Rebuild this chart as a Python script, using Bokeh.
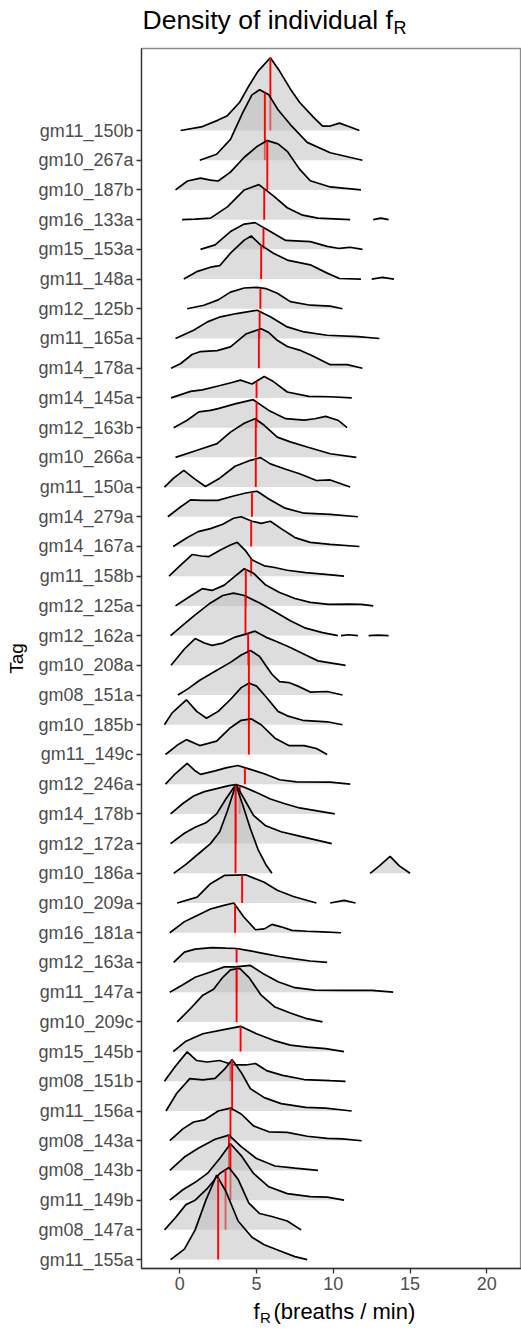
import numpy as np
from bokeh.plotting import figure
from bokeh.layouts import column
from bokeh.models import FixedTicker, Range1d
from bokeh.core.properties import value
from bokeh.embed import file_html
from bokeh.resources import INLINE

# Animals, listed top to bottom as they appear on the y axis
tags = ["gm11_150b", "gm10_267a", "gm10_187b", "gm16_133a", "gm15_153a", "gm11_148a",
        "gm12_125b", "gm11_165a", "gm14_178a", "gm14_145a", "gm12_163b", "gm10_266a",
        "gm11_150a", "gm14_279a", "gm14_167a", "gm11_158b", "gm12_125a", "gm12_162a",
        "gm10_208a", "gm08_151a", "gm10_185b", "gm11_149c", "gm12_246a", "gm14_178b",
        "gm12_172a", "gm10_186a", "gm10_209a", "gm16_181a", "gm12_163a", "gm11_147a",
        "gm10_209c", "gm15_145b", "gm08_151b", "gm11_156a", "gm08_143a", "gm08_143b",
        "gm11_149b", "gm08_147a", "gm11_155a"]

# Median breathing frequency per animal (breaths/min)
medians = [5.9, 5.54, 5.7, 5.5, 5.45, 5.3, 5.25, 5.2, 5.15, 5.0, 5.0, 4.95, 4.95, 4.7,
           4.65, 4.65, 4.3, 4.28, 4.45, 4.5, 4.5, 4.5, 4.24, 3.9, 3.65, 3.63, 4.06, 3.6,
           3.7, 3.7, 3.7, 3.96, 3.3, 3.41, 3.3, 3.2, 3.3, 2.98, 2.5]

# Scaled density curves: frequency values and ridge heights (in row units)
curve_x = [
    [0.05, 1.4, 2.5, 3.1, 3.9, 4.5, 5.1, 5.9, 6.5, 7.2, 7.8, 8.7, 9.3, 9.8, 10.4, 11.1, 11.7],
    [1.3, 2.4, 3.3, 4.1, 4.7, 5.2, 5.8, 6.4, 7.2, 8.3, 9.8, 11.9],
    [-0.28, 0.5, 1.35, 2.0, 2.5, 3.3, 4.2, 5.0, 5.7, 6.4, 7.0, 7.8, 8.5, 9.8, 11.8],
    [0.15, 1.0, 2.0, 3.1, 4.2, 5.15, 6.1, 7.0, 8.0, 9.0, 11.1],
    [1.35, 2.3, 3.3, 4.2, 4.9, 5.9, 6.9, 8.5, 9.6, 10.4, 11.1, 11.9],
    [0.26, 1.1, 2.0, 2.6, 3.3, 4.2, 4.65, 5.26, 6.1, 7.0, 8.5, 9.6, 10.4, 11.8],
    [0.48, 1.57, 2.5, 3.3, 4.2, 5.04, 5.6, 6.35, 7.2, 8.5, 9.8, 10.6],
    [-0.28, 0.9, 1.8, 2.65, 3.7, 5.04, 5.9, 7.0, 8.1, 9.6, 11.6, 13.0],
    [-0.57, 0.04, 0.8, 1.35, 2.43, 3.3, 4.3, 5.3, 5.8, 6.35, 7.0, 7.9, 8.6, 9.8, 10.9, 11.9],
    [-0.57, 0.7, 1.46, 2.5, 3.4, 3.95, 4.7, 5.5, 6.1, 7.0, 8.4, 9.8, 11.2],
    [-0.4, 0.48, 1.24, 2.0, 2.5, 3.6, 4.78, 5.8, 6.9, 8.1, 8.8, 9.5, 10.3, 10.9],
    [-0.28, 1.13, 2.43, 3.3, 4.2, 4.9, 5.5, 6.35, 7.2, 8.3, 9.8, 11.5],
    [-1.0, -0.4, 0.26, 0.9, 1.67, 2.6, 3.6, 4.6, 5.26, 5.9, 6.9, 7.8, 8.9, 9.8, 11.1],
    [-0.78, 0.04, 0.7, 1.46, 2.48, 3.5, 4.3, 5.04, 5.8, 6.8, 8.1, 9.8, 11.6],
    [-0.43, 0.5, 1.2, 2.0, 2.8, 3.5, 4.0, 4.7, 5.3, 5.9, 6.6, 7.5, 8.5, 9.8, 11.7],
    [-0.7, 0.0, 0.8, 1.4, 1.9, 2.7, 3.3, 3.74, 4.3, 4.7, 5.5, 6.1, 7.0, 8.2, 9.5, 10.7],
    [-0.28, 0.6, 1.46, 2.1, 2.9, 3.6, 4.2, 4.8, 5.6, 6.5, 7.5, 8.5, 9.7, 11.0, 11.8, 12.6],
    [-0.6, 0.2, 1.0, 2.0, 2.8, 3.5, 4.2, 5.2, 6.2, 7.2, 8.2, 9.3, 10.3],
    [-0.57, 0.3, 1.0, 1.6, 2.1, 2.8, 3.6, 4.3, 4.9, 5.6, 6.3, 7.2, 8.2, 9.0, 10.8],
    [-0.13, 0.5, 1.3, 2.3, 3.3, 4.0, 4.6, 5.2, 6.0, 6.5, 7.1, 7.7, 8.5, 9.6, 10.6],
    [-1.0, -0.5, 0.43, 1.1, 1.74, 2.5, 3.3, 4.0, 4.5, 5.0, 5.6, 6.4, 7.0, 8.0, 9.6, 10.6],
    [-0.93, -0.2, 0.43, 1.3, 2.4, 3.3, 4.0, 4.65, 5.3, 6.2, 7.1, 8.1, 8.9, 9.6],
    [-0.93, -0.3, 0.48, 1.0, 1.35, 2.3, 3.0, 3.78, 4.6, 5.5, 6.5, 7.6, 9.8, 11.1],
    [-0.6, 0.2, 0.9, 1.6, 2.4, 3.2, 3.65, 4.2, 5.0, 5.9, 6.8, 7.8, 10.1],
    [-0.6, 0.3, 1.0, 1.7, 2.4, 3.0, 3.65, 4.2, 4.8, 5.6, 6.6, 7.8, 9.9],
    [-0.4, 0.4, 1.2, 2.0, 2.6, 3.1, 3.65, 4.1, 4.6, 5.1, 5.6, 6.0],
    [-0.17, 1.13, 2.0, 2.9, 4.28, 5.5, 6.35, 7.4, 8.9],
    [-0.65, 0.26, 1.13, 2.0, 2.87, 3.52, 4.17, 4.93, 5.5, 6.0, 6.6, 7.3, 8.3, 9.3, 10.5],
    [-0.4, 0.3, 1.0, 2.1, 3.0, 3.7, 4.5, 5.5, 6.5, 7.5, 8.5, 9.6],
    [-0.65, 0.2, 1.0, 2.0, 2.9, 3.6, 4.6, 5.5, 6.4, 7.5, 8.8, 10.5, 12.5, 13.9],
    [-0.17, 0.7, 1.5, 2.2, 2.8, 3.3, 3.9, 4.5, 5.3, 6.2, 7.2, 8.2, 9.3],
    [-0.43, 0.4, 1.5, 2.7, 3.96, 5.0, 6.1, 7.2, 8.3, 9.5, 10.7],
    [-1.0, -0.3, 0.48, 1.1, 1.78, 2.6, 3.5, 4.3, 4.93, 5.7, 6.7, 8.1, 9.8, 10.8],
    [-0.9, -0.2, 0.65, 1.5, 2.3, 2.9, 3.41, 4.0, 4.6, 5.5, 6.6, 8.2, 9.5, 11.2],
    [-0.65, 0.2, 0.9, 1.6, 2.5, 3.3, 4.0, 4.8, 5.8, 7.0, 8.3, 9.6, 10.6, 11.85],
    [-0.65, 0.3, 1.2, 2.3, 3.2, 4.0, 5.0, 6.2, 7.5, 9.0],
    [-0.65, 0.2, 1.0, 1.8, 2.6, 3.3, 4.0, 4.8, 5.8, 7.0, 8.5, 9.6, 10.7],
    [-1.0, -0.3, 0.4, 1.0, 1.8, 2.6, 3.2, 3.8, 4.5, 5.2, 6.0, 7.0, 7.9],
    [-0.6, 0.3, 1.0, 1.7, 2.4, 3.0, 3.8, 4.7, 5.5, 6.5, 7.5, 8.3],
]
curve_h = [
    [0.0, 0.12, 0.35, 0.5, 0.95, 1.5, 2.0, 2.45, 2.0, 1.4, 0.95, 0.45, 0.15, 0.15, 0.25, 0.12, 0.0],
    [0.0, 0.2, 0.7, 1.6, 2.2, 2.37, 2.2, 1.7, 1.2, 0.6, 0.25, 0.0],
    [0.0, 0.3, 0.4, 0.33, 0.3, 0.6, 1.1, 1.45, 1.66, 1.55, 1.3, 0.7, 0.31, 0.1, 0.0],
    [0.0, 0.02, 0.05, 0.43, 1.0, 1.18, 0.8, 0.4, 0.15, 0.05, 0.0],
    [0.0, 0.15, 0.6, 0.85, 0.9, 0.6, 0.3, 0.26, 0.1, 0.03, 0.07, 0.0],
    [0.0, 0.25, 0.4, 0.45, 0.87, 1.31, 1.45, 1.15, 0.87, 0.64, 0.48, 0.2, 0.02, 0.0],
    [0.0, 0.12, 0.3, 0.56, 0.7, 0.72, 0.68, 0.52, 0.24, 0.12, 0.09, 0.0],
    [0.0, 0.28, 0.56, 0.73, 0.84, 0.95, 0.73, 0.39, 0.22, 0.11, 0.06, 0.0],
    [0.0, 0.15, 0.46, 0.56, 0.59, 0.72, 1.15, 1.33, 1.2, 0.94, 0.73, 0.59, 0.43, 0.12, 0.12, 0.0],
    [0.0, 0.22, 0.27, 0.4, 0.52, 0.6, 0.47, 0.72, 0.55, 0.2, 0.05, 0.04, 0.0],
    [0.0, 0.25, 0.53, 0.58, 0.64, 0.8, 0.94, 0.58, 0.3, 0.25, 0.3, 0.38, 0.25, 0.0],
    [0.0, 0.24, 0.46, 0.85, 1.15, 1.3, 1.08, 0.68, 0.52, 0.35, 0.12, 0.0],
    [0.0, 0.3, 0.56, 0.3, 0.02, 0.3, 0.7, 0.9, 0.99, 0.78, 0.6, 0.45, 0.22, 0.24, 0.0],
    [0.0, 0.33, 0.57, 0.55, 0.55, 0.7, 0.8, 0.86, 0.6, 0.3, 0.12, 0.08, 0.0],
    [0.0, 0.3, 0.5, 0.6, 0.75, 0.95, 1.0, 0.85, 0.78, 0.85, 0.6, 0.3, 0.14, 0.07, 0.0],
    [0.0, 0.35, 0.73, 0.68, 0.66, 0.9, 1.05, 1.14, 0.85, 0.55, 0.35, 0.3, 0.2, 0.12, 0.06, 0.0],
    [0.0, 0.3, 0.58, 0.52, 0.7, 1.0, 1.25, 1.1, 0.7, 0.45, 0.25, 0.12, 0.05, 0.06, 0.05, 0.0],
    [0.0, 0.35, 0.7, 1.1, 1.35, 1.43, 1.35, 1.1, 0.8, 0.5, 0.25, 0.1, 0.0],
    [0.0, 0.55, 0.9, 0.75, 0.67, 0.75, 0.95, 1.05, 1.15, 0.95, 0.8, 0.6, 0.35, 0.15, 0.0],
    [0.0, 0.2, 0.5, 0.8, 1.1, 1.35, 1.5, 1.3, 0.7, 0.45, 0.42, 0.3, 0.1, 0.12, 0.0],
    [0.0, 0.4, 0.84, 0.45, 0.22, 0.45, 0.85, 1.25, 1.4, 1.3, 0.95, 0.45, 0.3, 0.15, 0.1, 0.0],
    [0.0, 0.3, 0.5, 0.3, 0.45, 0.9, 1.15, 1.2, 1.0, 0.55, 0.3, 0.3, 0.2, 0.0],
    [0.0, 0.35, 0.7, 0.45, 0.33, 0.45, 0.55, 0.63, 0.5, 0.35, 0.15, 0.08, 0.07, 0.0],
    [0.0, 0.35, 0.6, 0.75, 0.85, 0.95, 0.99, 0.9, 0.72, 0.5, 0.35, 0.2, 0.0],
    [0.0, 0.35, 0.55, 0.7, 1.0, 1.5, 1.99, 1.5, 0.95, 0.6, 0.4, 0.25, 0.0],
    [0.0, 0.3, 0.65, 1.0, 1.4, 2.1, 2.98, 2.3, 1.5, 0.8, 0.3, 0.0],
    [0.0, 0.2, 0.65, 0.93, 0.95, 0.7, 0.43, 0.22, 0.0],
    [0.0, 0.36, 0.58, 0.8, 0.92, 1.0, 0.53, 0.1, 0.13, 0.28, 0.2, 0.08, 0.05, 0.03, 0.0],
    [0.0, 0.35, 0.45, 0.5, 0.48, 0.47, 0.4, 0.3, 0.2, 0.12, 0.05, 0.0],
    [0.0, 0.25, 0.5, 0.68, 0.85, 0.85, 0.9, 0.6, 0.35, 0.15, 0.07, 0.06, 0.06, 0.0],
    [0.0, 0.45, 0.9, 1.1, 1.5, 1.75, 1.8, 1.5, 0.9, 0.5, 0.3, 0.12, 0.0],
    [0.0, 0.35, 0.6, 0.72, 0.85, 0.6, 0.38, 0.22, 0.15, 0.1, 0.0],
    [0.0, 0.5, 0.99, 0.7, 0.65, 0.7, 0.55, 0.55, 0.6, 0.35, 0.2, 0.06, 0.02, 0.0],
    [0.0, 0.6, 1.09, 1.05, 1.1, 1.4, 1.73, 1.3, 0.75, 0.45, 0.25, 0.12, 0.1, 0.0],
    [0.0, 0.4, 0.63, 0.7, 1.0, 1.1, 0.9, 0.5, 0.3, 0.28, 0.15, 0.08, 0.06, 0.0],
    [0.0, 0.45, 0.75, 1.05, 1.19, 0.8, 0.4, 0.15, 0.08, 0.0],
    [0.0, 0.35, 0.6, 0.9, 1.4, 1.9, 1.5, 0.9, 0.45, 0.22, 0.12, 0.1, 0.0],
    [0.0, 0.4, 0.85, 1.0, 1.4, 1.9, 2.1, 1.7, 0.9, 0.55, 0.45, 0.3, 0.0],
    [0.0, 0.35, 1.0, 2.0, 2.84, 2.3, 1.3, 0.75, 0.5, 0.3, 0.1, 0.0],
]

# Detached tail pieces of some densities (row name, frequencies, heights)
tail_tag = ["gm16_133a", "gm11_148a", "gm12_162a", "gm12_162a", "gm10_186a", "gm10_209a"]
tail_x = [
    [12.6, 13.1, 13.6],
    [12.5, 13.2, 13.95],
    [10.5, 11.0, 11.6],
    [12.3, 12.9, 13.6],
    [12.4, 13.0, 13.7, 14.3, 15.0],
    [9.8, 10.7, 11.45],
]
tail_h = [
    [0.0, 0.05, 0.0],
    [0.0, 0.06, 0.0],
    [0.0, 0.03, 0.0],
    [0.0, 0.02, 0.0],
    [0.0, 0.25, 0.57, 0.25, 0.0],
    [0.0, 0.09, 0.0],
]

x_ticks = [0, 5, 10, 15, 20]

FONT = "Liberation Sans"
W = 521
LEFT = 141  # left edge of the panel, shared by all strips of the column
n = len(tags)


def text_strip(height):
    """A bare figure used as a strip of text above or below the panel.
    Its x coordinates are page pixels; y runs downward from the strip top."""
    f = figure(width=W, height=height, output_backend="svg", toolbar_location=None,
               title=None, x_range=Range1d(LEFT, W), y_range=Range1d(height, 0),
               x_axis_location=None, y_axis_location=None, min_border_left=LEFT,
               min_border_right=0, min_border_top=0, min_border_bottom=0)
    f.outline_line_color = None
    f.xgrid.visible = False
    f.ygrid.visible = False
    f.background_fill_color = "white"
    f.border_fill_color = "white"
    return f


def put(fig, x, y, txt, size):
    fig.text(x=[x], y=[y], text=[txt], text_align="left", text_baseline="middle",
             text_font=value(FONT), text_font_size=size, text_color="black")


# ---- title strip: "Density of individual f_R"
top = text_strip(46)
put(top, 142, 19, "Density of individual f", "26.5px")
put(top, 393, 27, "R", "18px")

# ---- main ridgeline panel
p = figure(width=W, height=1252, output_backend="svg", toolbar_location=None,
           title=None, x_range=Range1d(-2.495, 22.26), y_range=Range1d(0.70, 41.76),
           min_border_left=LEFT, min_border_right=0, min_border_top=2,
           min_border_bottom=30)
p.background_fill_color = "white"
p.border_fill_color = "white"
p.outline_line_color = "#8c8c8c"
p.outline_line_width = 1.3
p.xgrid.visible = False
p.ygrid.visible = False

RIDGE_FILL = "#bbbbbb"
for i, tag in enumerate(tags):
    base = n - i
    xs = np.array(curve_x[i], dtype=float)
    hs = np.array(curve_h[i], dtype=float)
    p.varea(x=xs, y1=np.full(len(xs), base, dtype=float), y2=base + hs,
            fill_color=RIDGE_FILL, fill_alpha=0.5)
    p.line(xs, base + hs, line_color="black", line_width=1.7)
    for t, tx, th in zip(tail_tag, tail_x, tail_h):
        if t == tag:
            txa = np.array(tx, dtype=float)
            tha = np.array(th, dtype=float)
            p.varea(x=txa, y1=np.full(len(txa), base, dtype=float), y2=base + tha,
                    fill_color=RIDGE_FILL, fill_alpha=0.5)
            p.line(txa, base + tha, line_color="black", line_width=1.7)
    hm = float(np.interp(medians[i], xs, hs))
    p.segment(x0=[medians[i]], y0=[base], x1=[medians[i]], y1=[base + hm],
              line_color="red", line_width=1.9)

# y axis: one tick per animal
p.yaxis.ticker = FixedTicker(ticks=list(range(1, n + 1)))
p.yaxis.major_label_overrides = {n - i: t for i, t in enumerate(tags)}
p.yaxis.axis_label = "Tag"
p.yaxis.axis_label_text_font = FONT
p.yaxis.axis_label_text_font_size = "19px"
p.yaxis.axis_label_text_font_style = "normal"
p.yaxis.axis_label_text_color = "black"
p.yaxis.axis_label_standoff = 8

p.xaxis.ticker = FixedTicker(ticks=x_ticks)
p.xaxis.major_label_overrides = {t: str(t) for t in x_ticks}

for ax in (p.xaxis, p.yaxis):
    ax.major_label_text_font = FONT
    ax.major_label_text_font_size = "18px"
    ax.major_label_text_color = "#4d4d4d"
    ax.major_tick_in = 0
    ax.major_tick_out = 5
    ax.minor_tick_line_color = None
    ax.major_tick_line_color = "#333333"
    ax.major_tick_line_width = 1.3
    ax.axis_line_color = "#333333"
    ax.axis_line_width = 1.3
    ax.major_label_standoff = 3

# ---- x axis title strip: "f_R (breaths/min)"
bottom = text_strip(34)
put(bottom, 253, 12.6, "f", "22px")
put(bottom, 259.5, 18.6, "R", "15px")
put(bottom, 273, 12.6, "(breaths / min)", "22px")

layout = column(top, p, bottom, spacing=0)
open("out.html", "w").write(file_html(layout, INLINE))
